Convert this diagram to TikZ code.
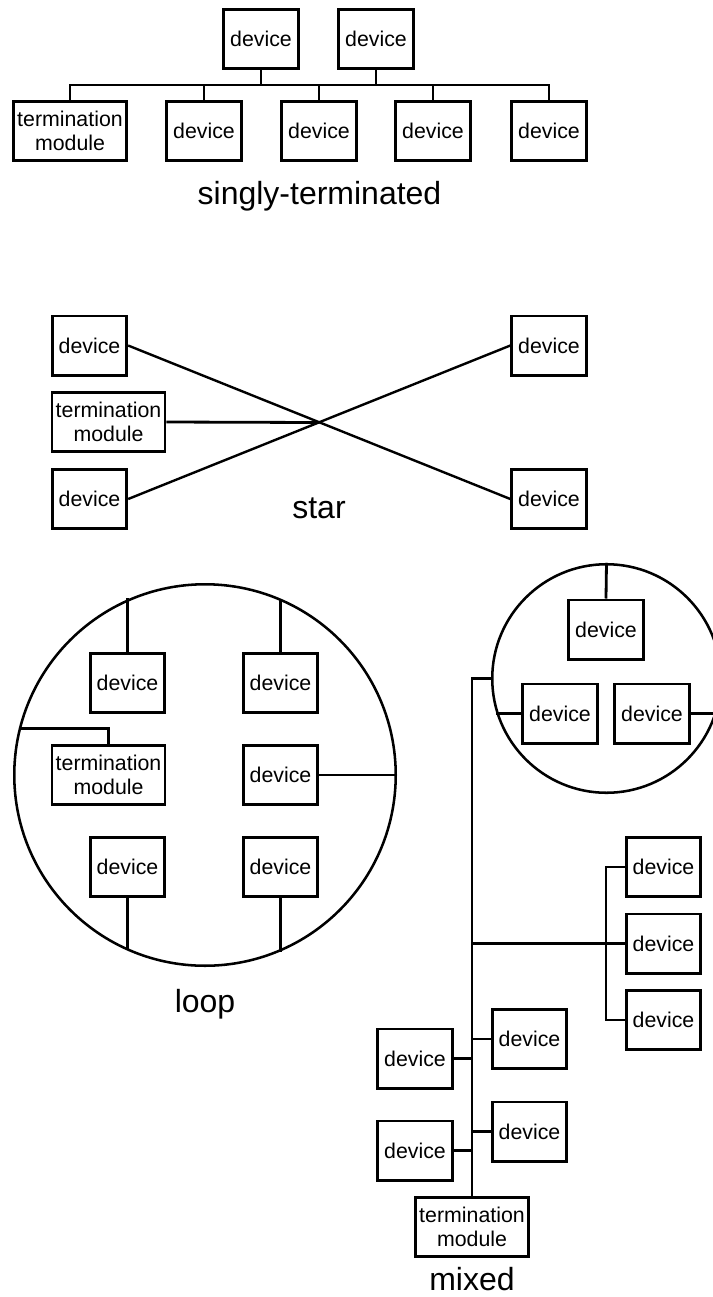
\documentclass[tikz,border=0pt]{standalone}
\usepackage{fontspec}
\setmainfont{Liberation Sans}
\begin{document}
\begin{tikzpicture}[x=.75pt,y=-.75pt,line width=2.1pt,
  box/.style={draw,minimum width=55.9pt,minimum height=44.4pt,inner sep=1pt,
    font=\fontsize{16}{17.5}\selectfont,align=center},
  tbox/.style={box,minimum width=84.8pt},
  ring/.style={draw,circle,line width=1.9pt,inner sep=0pt},
  lbl/.style={anchor=base,font=\fontsize{24}{28}\selectfont}]
\useasboundingbox (0,0) rectangle (713,1297);
\node (a1) at (261,39) [box] {device};
\node (a2) at (376,39) [box] {device};
\node (a0) at (70,131) [tbox] {termination\\module};
\foreach \n/\x in {3/204,4/319,5/433,6/549}
  \node (a\n) at (\x,131) [box] {device};
\coordinate (bus) at (0,85);
\draw (a0.north)--(a0.north|-bus)--(a6.north|-bus)--(a6.north);
\foreach \n in {1,2} \draw (a\n.south)--(a\n.south|-bus);
\foreach \n in {3,4,5} \draw (a\n.north)--(a\n.north|-bus);
\node (cap1) at (319.5,204) [lbl] {singly-terminated};
\node (b1) at (89.5,345.5) [box] {device};
\node (b0) at (108.5,422) [tbox] {termination\\module};
\node (b2) at (89.5,499) [box] {device};
\node (b3) at (549,345.5) [box] {device};
\node (b4) at (549,499) [box] {device};
\coordinate (hub) at (318.5,422.5);
\draw[line width=1.8pt] (b1.east)--(b4.west);
\draw[line width=1.8pt] (b2.east)--(b3.west);
\draw (b0.east)--(hub);
\node (cap2) at (319,518) [lbl] {star};
\node (loop) at (205,775) [ring,minimum size=286.1pt] {};
\node (c1) at (127.5,683) [box] {device};
\node (c2) at (280.5,683) [box] {device};
\node (c0) at (108.5,775) [tbox] {termination\\module};
\node (c3) at (280.5,775) [box] {device};
\node (c4) at (127.5,867) [box] {device};
\node (c5) at (280.5,867) [box] {device};
\draw (c1.north)--(c1.north|-loop.113.5);
\draw (c2.north)--(c2.north|-loop.66.5);
\draw (c0.north)|-(loop.166.1);
\draw (c3.east)--(loop.east);
\draw (c4.south)--(c4.south|-loop.246.5);
\draw (c5.south)--(c5.south|-loop.293.5);
\node (cap3) at (205,1012) [lbl] {loop};
\node (mring) at (606.5,678.5) [ring,minimum size=171.4pt] {};
\node (m1) at (606,629.5) [box] {device};
\node (m2) at (560,713.5) [box] {device};
\node (m3) at (652,713.5) [box] {device};
\draw (m1.north)--(mring.north);
\draw (m2.west)--(m2.west-|mring.197.6);
\draw (m3.east)--(m3.east-|mring.342.4);
\node (m0) at (472,1227) [tbox] {termination\\module};
\draw (mring.west)-|(m0.north);
\node (r1) at (663.5,867) [box] {device};
\node (r2) at (663.5,943.5) [box] {device};
\node (r3) at (663.5,1020) [box] {device};
\coordinate (fork) at (606,943.5);
\draw (r1.west)-|(fork)|-(r3.west);
\draw (r2.west)--(r2.west-|m0.north);
\node (m4) at (529.5,1039) [box] {device};
\node (m5) at (415,1058.5) [box] {device};
\node (m6) at (529.5,1131.5) [box] {device};
\node (m7) at (415,1150.5) [box] {device};
\foreach \n in {4,6} \draw (m\n.west)--(m\n.west-|m0.north);
\foreach \n in {5,7} \draw (m\n.east)--(m\n.east-|m0.north);
\node (cap4) at (472,1290) [lbl] {mixed};
\end{tikzpicture}
\end{document}
